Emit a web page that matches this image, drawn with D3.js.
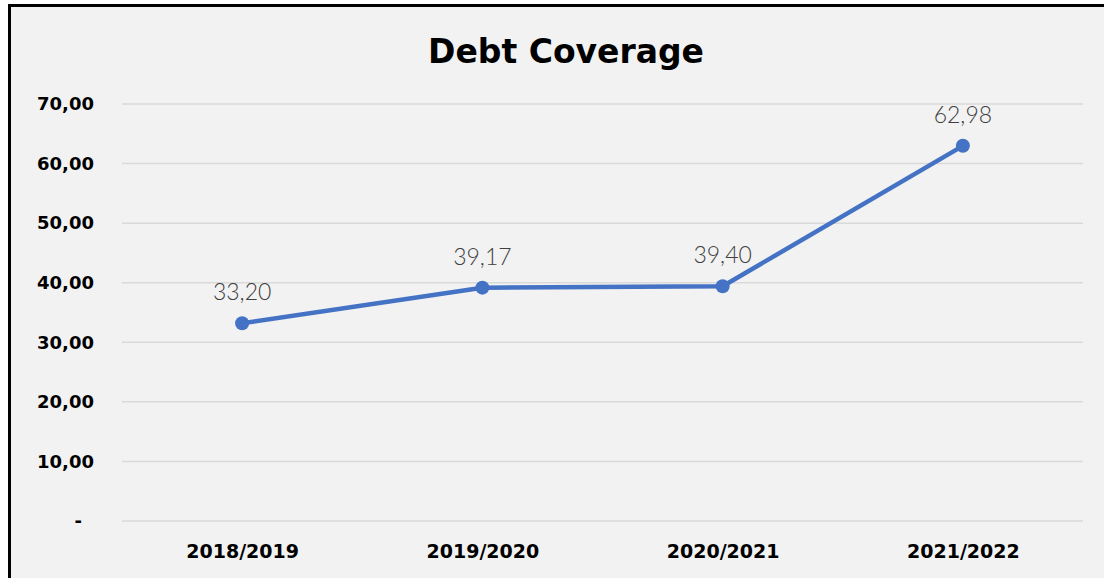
<!DOCTYPE html>
<html>
<head>
<meta charset="utf-8">
<script src="https://cdn.jsdelivr.net/npm/d3@7"></script>
<style>
  body { margin: 0; background: #fff; }
  svg { display: block; }
</style>
</head>
<body>
<div id="chart"></div>
<script>
// Chart data
const categories = ['2018/2019', '2019/2020', '2020/2021', '2021/2022'];
const values = [33.20, 39.17, 39.40, 62.98];
const yTicks = [0, 10, 20, 30, 40, 50, 60, 70];

const width = 1104, height = 578;
const margin = { left: 122, right: 21, top: 104, bottom: 57 };
const boldFont = '"DejaVu Sans", Verdana, sans-serif';

const svg = d3.select('#chart').append('svg')
    .attr('width', width)
    .attr('height', height);

// Frame
svg.append('rect')
    .attr('x', 9.5).attr('y', 5.5)
    .attr('width', width + 20).attr('height', height + 20)
    .attr('fill', '#f2f2f2')
    .attr('stroke', '#000')
    .attr('stroke-width', 3);

const fmt = v => v === 0 ? '-' : v.toFixed(2).replace('.', ',');

const x = d3.scalePoint()
    .domain(categories)
    .range([margin.left, width - margin.right])
    .padding(0.5);

const y = d3.scaleLinear()
    .domain([0, 70])
    .range([height - margin.bottom, margin.top]);

// Title
svg.append('text')
    .attr('x', 566).attr('y', 63)
    .attr('text-anchor', 'middle')
    .style('font-family', boldFont)
    .style('font-weight', 'bold')
    .style('font-size', '33px')
    .attr('fill', '#000')
    .text('Debt Coverage');

// Gridlines
svg.append('g')
    .selectAll('line')
    .data(yTicks)
    .enter()
    .append('line')
    .attr('x1', margin.left)
    .attr('x2', width - margin.right)
    .attr('y1', d => y(d))
    .attr('y2', d => y(d))
    .attr('stroke', '#d9d9d9')
    .attr('stroke-width', 1.5);

// Y axis
const yAxis = svg.append('g')
    .attr('transform', `translate(${margin.left - 28},0)`)
    .call(d3.axisLeft(y).tickValues(yTicks).tickFormat(fmt).tickSize(0).tickPadding(0));
yAxis.select('.domain').remove();
yAxis.selectAll('text')
    .attr('fill', '#000')
    .attr('dx', d => d === 0 ? -12 : 0)
    .style('font-family', boldFont)
    .style('font-weight', 'bold')
    .style('font-size', '18px');

// X axis
const xAxis = svg.append('g')
    .attr('transform', `translate(0,${height - margin.bottom})`)
    .call(d3.axisBottom(x).tickSize(0).tickPadding(24));
xAxis.select('.domain').remove();
xAxis.selectAll('text')
    .attr('fill', '#000')
    .style('font-family', boldFont)
    .style('font-weight', 'bold')
    .style('font-size', '19px');

// Line
const line = d3.line()
    .x((d, i) => x(categories[i]))
    .y(d => y(d));

svg.append('path')
    .datum(values)
    .attr('d', line)
    .attr('fill', 'none')
    .attr('stroke', '#4472c4')
    .attr('stroke-width', 4.5)
    .attr('stroke-linejoin', 'round');

svg.selectAll('.pt')
    .data(values)
    .enter()
    .append('circle')
    .attr('class', 'pt')
    .attr('cx', (d, i) => x(categories[i]))
    .attr('cy', d => y(d))
    .attr('r', 7)
    .attr('fill', '#4472c4');

// Data labels
svg.selectAll('.lbl')
    .data(values)
    .enter()
    .append('text')
    .attr('class', 'lbl')
    .attr('x', (d, i) => x(categories[i]))
    .attr('y', d => y(d) - 23)
    .attr('text-anchor', 'middle')
    .attr('fill', '#404040')
    .style('font-family', 'Lato, "Noto Sans", sans-serif')
    .style('font-weight', 300)
    .style('font-size', '23px')
    .text(fmt);
</script>
</body>
</html>
